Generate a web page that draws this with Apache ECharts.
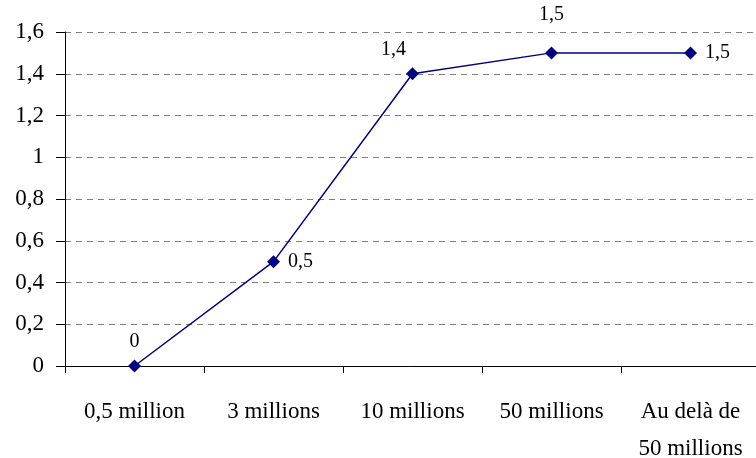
<html>
    <head>
        <meta charset="utf-8">
        <script src="https://cdn.jsdelivr.net/npm/echarts@6/dist/echarts.min.js"></script>
    </head>
    <body style="margin:0">
        <div id="main" style="width:756px;height:458px"></div>
        <script>

        var categories = ['0,5 million', '3 millions', '10 millions', '50 millions', 'Au delà de\n50 millions'];
        var values = [0, 0.5, 1.4, 1.5, 1.5];
        var labelPos = ['top', 'right', 'top', 'top', 'right'];
        var labelOffset = [[0, 0], [0, 0], [-19, 0], [0, -14], [0, 0]];

        var myChart = echarts.init(document.getElementById('main'));

        var fontFamily = '"Liberation Serif", "Times New Roman", serif';

        var points = values.map(function (v, i) {
            return {
                value: v,
                label: {position: labelPos[i], offset: labelOffset[i]}
            };
        });

        myChart.setOption({
            backgroundColor: '#fff',
            animation: false,
            grid: {left: 65, right: -4, top: 32, bottom: 92, outerBoundsMode: 'none', containLabel: false},
            xAxis: {
                type: 'category',
                data: categories,
                boundaryGap: true,
                axisLine: {lineStyle: {color: '#000', width: 1}},
                axisTick: {show: true, length: 7, lineStyle: {color: '#000'}},
                axisLabel: {
                    color: '#000', fontSize: 23, fontFamily: fontFamily,
                    margin: 27, lineHeight: 37, interval: 0
                },
                splitLine: {show: false}
            },
            yAxis: {
                type: 'value',
                min: 0,
                max: 1.6,
                interval: 0.2,
                axisLine: {show: true, lineStyle: {color: '#000', width: 1}},
                axisTick: {show: true, length: 9, lineStyle: {color: '#000'}},
                axisLabel: {
                    color: '#000', fontSize: 23, fontFamily: fontFamily, margin: 21,
                    formatter: function (v) {
                        return String(Math.round(v * 10) / 10).replace('.', ',');
                    }
                },
                splitLine: {show: true, lineStyle: {color: '#808080', type: [6, 5], width: 1}}
            },
            series: [{
                type: 'line',
                data: points,
                symbol: 'diamond',
                symbolSize: 13,
                lineStyle: {color: '#000080', width: 1.5},
                itemStyle: {color: '#000080'},
                label: {
                    show: true,
                    color: '#000',
                    fontSize: 20,
                    fontFamily: fontFamily,
                    distance: 8,
                    formatter: function (p) {
                        return String(p.value).replace('.', ',');
                    }
                }
            }]
        });

        </script>
    </body>
</html>
